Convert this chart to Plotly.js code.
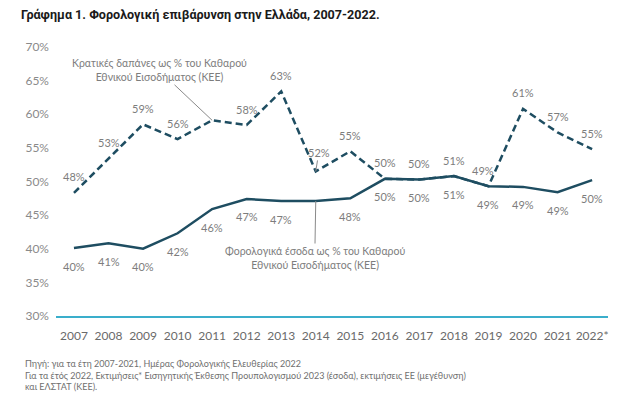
<!DOCTYPE html>
<html>
<head>
<meta charset="utf-8">
<script src="https://cdn.plot.ly/plotly-3.0.1.min.js"></script>
<style>html,body{margin:0;padding:0;background:#fff;}#chart{width:620px;height:397px;}</style>
</head>
<body>
<div id="chart"></div>
<script>
const years = ["2007","2008","2009","2010","2011","2012","2013","2014","2015","2016","2017","2018","2019","2020","2021","2022*"];
const spending = [48.3, 53.4, 58.5, 56.3, 59.1, 58.4, 63.4, 51.5, 54.5, 50.4, 50.3, 50.8, 49.3, 60.8, 57.3, 54.8];
const revenue  = [40.1, 40.8, 40.0, 42.3, 45.9, 47.4, 47.1, 47.1, 47.5, 50.4, 50.3, 50.8, 49.3, 49.2, 48.4, 50.2];
const spendingLabels = ["48%","53%","59%","56%","","58%","63%","52%","55%","50%","50%","51%","49%","61%","57%","55%"];
const revenueLabels  = ["40%","41%","40%","42%","46%","47%","47%","","48%","50%","50%","51%","49%","49%","49%","50%"];
const spendingName = "Κρατικές δαπάνες ως % του Καθαρού<br>Εθνικού Εισοδήματος (ΚΕΕ)";
const revenueName = "Φορολογικά έσοδα ως % του Καθαρού<br>Εθνικού Εισοδήματος (ΚΕΕ)";
const titleText = "<b>Γράφημα 1. Φορολογική επιβάρυνση στην Ελλάδα, 2007-2022.</b>";
const sourceText = "Πηγή: για τα έτη 2007-2021, Ημέρας Φορολογικής Ελευθερίας 2022<br>Για τα έτός 2022, Εκτιμήσεις* Εισηγητικής Έκθεσης Προυπολογισμού 2023 (έσοδα), εκτιμήσεις ΕΕ (μεγέθυνση)<br>και ΕΛΣΤΑΤ (ΚΕΕ).";

const lineColor = "#1e4d61";
const labelColor = "#7d7d7d";
const FONT = "Lato, 'Open Sans', sans-serif";

const traces = [
  {x: years, y: revenue, type: "scatter", mode: "lines", line: {color: lineColor, width: 2.5}, hoverinfo: "skip"},
  {x: years, y: spending, type: "scatter", mode: "lines", line: {color: lineColor, width: 2.5, dash: "7px,4px"}, hoverinfo: "skip"}
];

// category axis: annotation x given as category index
const annotations = [];
spendingLabels.forEach((t, i) => {
  if (!t) return;
  if (i === 7) {
    annotations.push({x: i, y: spending[i], text: t, showarrow: true, arrowhead: 0, arrowwidth: 1, arrowcolor: "#8a8a8a", ax: 3, ay: -19, font: {size: 11, color: labelColor, family: FONT}});
    return;
  }
  annotations.push({x: i, y: spending[i], text: t, showarrow: false, yshift: 16, xshift: (i === 12 ? -5 : 0), font: {size: 11, color: labelColor, family: FONT}});
});
revenueLabels.forEach((t, i) => {
  if (!t) return;
  annotations.push({x: i, y: revenue[i], text: t, showarrow: false, yshift: -18, font: {size: 11, color: labelColor, family: FONT}});
});
annotations.push({x: 4, y: spending[4], text: spendingName, showarrow: true, arrowhead: 0, arrowwidth: 1, arrowcolor: "#8a8a8a", ax: -53, ay: -50, standoff: 0, font: {size: 10.5, color: labelColor, family: FONT}});
annotations.push({x: 7, y: revenue[7], text: revenueName, showarrow: true, arrowhead: 0, arrowwidth: 1, arrowcolor: "#8a8a8a", ax: -1, ay: 57, font: {size: 10.5, color: labelColor, family: FONT}});
annotations.push({xref: "paper", yref: "paper", x: -0.06, y: -0.148, xanchor: "left", yanchor: "top", align: "left", showarrow: false, text: sourceText, font: {size: 9, color: "#6f6f6f", family: FONT}});

const layout = {
  width: 620, height: 397,
  margin: {l: 56, r: 12, t: 47, b: 81},
  paper_bgcolor: "#ffffff", plot_bgcolor: "#ffffff",
  showlegend: false,
  font: {family: FONT, color: "#6a6a6a"},
  title: {text: titleText, x: 21/620, xanchor: "left", xref: "container", y: 1 - 15/397, yref: "container", yanchor: "middle", font: {size: 12.6, color: "#1a1a1a", family: "Roboto, sans-serif"}},
  xaxis: {type: "category", range: [-0.52, 15.46], showgrid: false, zeroline: false, showline: true, linecolor: "#3aaecb", linewidth: 1.5, ticks: "", ticklabelstandoff: 8, tickfont: {size: 12, color: "#6a6a6a", family: FONT}, fixedrange: true},
  yaxis: {range: [30, 70], dtick: 5, ticksuffix: "%", showgrid: false, zeroline: false, showline: false, ticks: "", ticklabelstandoff: 6, tickfont: {size: 12, color: "#8a8a8a", family: FONT}, fixedrange: true},
  annotations: annotations
};

Plotly.newPlot("chart", traces, layout, {displayModeBar: false, staticPlot: true});
</script>
</body>
</html>
